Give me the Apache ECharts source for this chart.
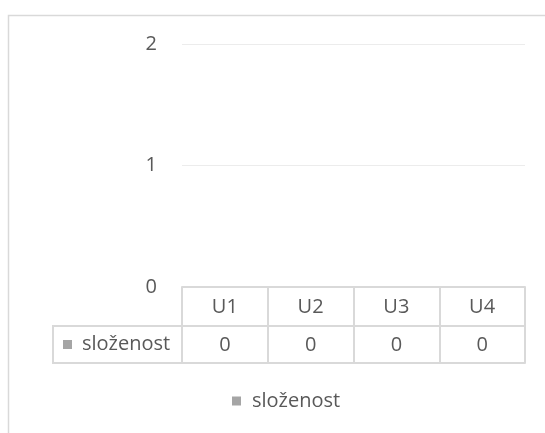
<!DOCTYPE html>
<html><head><meta charset="utf-8">
<script src="https://cdn.jsdelivr.net/npm/echarts@6/dist/echarts.min.js"></script>
<style>html,body{margin:0;padding:0;background:#fff}#c{width:545px;height:433px}</style>
</head><body><div id="c"></div>
<script>
const categories = ['U1', 'U2', 'U3', 'U4'];
const seriesName = 'složenost';
const values = [0, 0, 0, 0];
const yMin = 0, yMax = 2, yStep = 1;

const FONT = 'Open Sans';
const TXT = '#595959';
const LINE = '#d9d9d9';
const FS = 20;
const ROW1 = 39, ROW2 = 76;

const chart = echarts.init(document.getElementById('c'), null, {renderer: 'canvas'});
chart.setOption({
  animation: false,
  backgroundColor: '#fff',
  textStyle: {fontFamily: FONT},
  grid: {left: 182, right: 20, top: 44, bottom: 146, containLabel: false},
  legend: {
    data: [seriesName], left: 227, top: 386, icon: 'rect', itemWidth: 9, itemHeight: 9, itemGap: 6,
    textStyle: {color: TXT, fontSize: FS, fontFamily: FONT, padding: [0, 0, 0, 6]}
  },
  xAxis: [
    {type: 'category', data: categories,
     axisLine: {lineStyle: {color: LINE, width: 2}},
     axisTick: {show: true, length: ROW2, lineStyle: {color: LINE, width: 2}},
     axisLabel: {color: TXT, fontSize: FS, margin: 10, fontFamily: FONT}},
    {type: 'category', data: values.map(String), position: 'bottom', offset: ROW1,
     axisLine: {lineStyle: {color: LINE, width: 2}}, axisTick: {show: false},
     axisLabel: {color: TXT, fontSize: FS, margin: 9, fontFamily: FONT}},
    {type: 'category', data: categories, position: 'bottom', offset: ROW2,
     axisLine: {lineStyle: {color: LINE, width: 2}}, axisTick: {show: false}, axisLabel: {show: false}}
  ],
  yAxis: {type: 'value', min: yMin, max: yMax, interval: yStep,
    axisLine: {show: false}, axisTick: {show: false},
    axisLabel: {color: TXT, fontSize: FS, margin: 25, fontFamily: FONT},
    splitLine: {lineStyle: {color: '#ececec', width: 1}}},
  series: [{name: seriesName, type: 'bar', data: values, xAxisIndex: 0, itemStyle: {color: '#a5a5a5'}}]
});

const c0 = chart.convertToPixel({xAxisIndex: 0}, 0);
const c1 = chart.convertToPixel({xAxisIndex: 0}, 1);
const left = c0 - (c1 - c0) / 2;
const y0 = chart.convertToPixel({yAxisIndex: 0}, yMin);
const cellL = 53;
const rowMid = y0 + (ROW1 + ROW2) / 2;
chart.setOption({
  graphic: [
    {type: 'rect', shape: {x: 8.5, y: 15.5, width: 700, height: 600}, style: {fill: 'none', stroke: LINE, lineWidth: 1.5}, silent: true},
    {type: 'line', shape: {x1: cellL, y1: y0 + ROW1, x2: left, y2: y0 + ROW1}, style: {stroke: LINE, lineWidth: 2}},
    {type: 'line', shape: {x1: cellL, y1: y0 + ROW2, x2: left, y2: y0 + ROW2}, style: {stroke: LINE, lineWidth: 2}},
    {type: 'line', shape: {x1: cellL, y1: y0 + ROW1 - 1, x2: cellL, y2: y0 + ROW2 + 1}, style: {stroke: LINE, lineWidth: 2}},
    {type: 'rect', shape: {x: 63, y: rowMid - 4.5, width: 9, height: 9}, style: {fill: '#a5a5a5'}},
    {type: 'text', x: 82, y: rowMid, style: {text: seriesName, fill: TXT, fontSize: FS, fontFamily: FONT, verticalAlign: 'middle'}}
  ]
});
</script></body></html>
